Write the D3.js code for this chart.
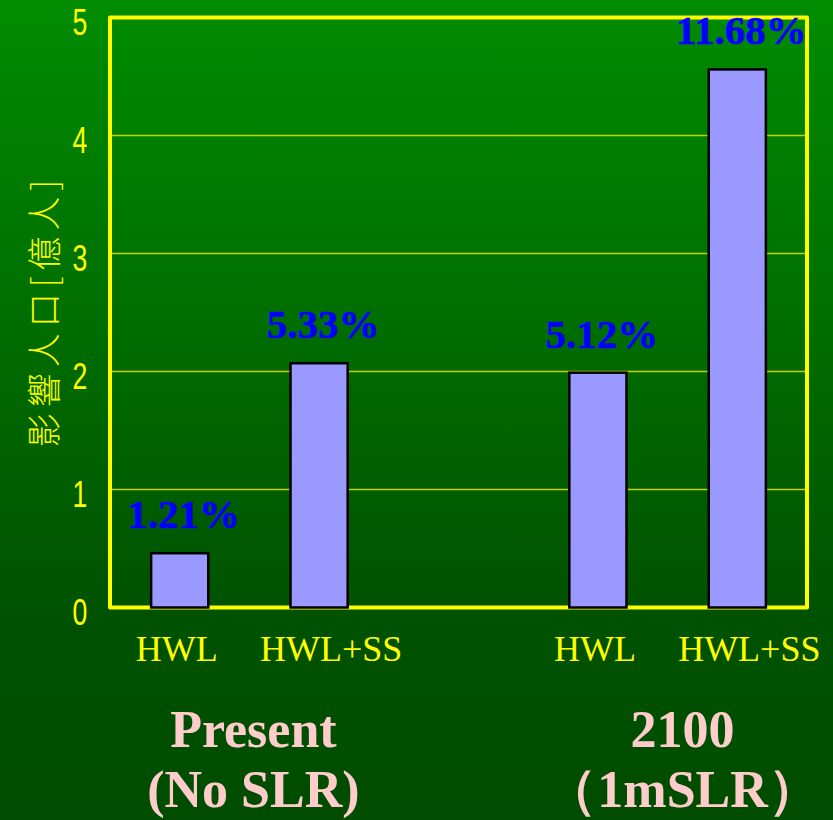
<!DOCTYPE html>
<html>
<head>
<meta charset="utf-8">
<script src="https://cdn.jsdelivr.net/npm/d3@7"></script>
<style>
  body { margin: 0; }
  svg { display: block; }
</style>
</head>
<body>
<svg id="chart"></svg>
<script>
// data
const groups = ["Present", "2100"];
const groupSubtitles = ["(No SLR)", "（1mSLR）"];
const barLabels = ["HWL", "HWL+SS", "HWL", "HWL+SS"];
const barGroup = [0, 0, 1, 1];
const population = [0.46, 2.07, 1.99, 4.56]; // 億人
const shares = ["1.21%", "5.33%", "5.12%", "11.68%"];
const yTicks = [0, 1, 2, 3, 4, 5];
const yTitle = "影響人口[億人]";

const width = 833, height = 820;
const margin = {top: 17.5, right: 26, bottom: 212.5, left: 110};

const svg = d3.select("#chart")
    .attr("width", width)
    .attr("height", height);

// background gradient
const defs = svg.append("defs");
const grad = defs.append("linearGradient")
    .attr("id", "bg")
    .attr("x1", 0).attr("y1", 0).attr("x2", 0).attr("y2", 1);
grad.append("stop").attr("offset", "0%").attr("stop-color", "#008c00");
grad.append("stop").attr("offset", "75%").attr("stop-color", "#005200");
grad.append("stop").attr("offset", "100%").attr("stop-color", "#004c00");

svg.append("rect")
    .attr("width", width)
    .attr("height", height)
    .attr("fill", "url(#bg)");

// one band per bar plus a spacer between the two groups
const keys = [];
barLabels.forEach((l, i) => {
    if (i > 0 && barGroup[i] !== barGroup[i - 1]) keys.push("gap");
    keys.push(i);
});

const x = d3.scaleBand()
    .domain(keys)
    .range([margin.left, width - margin.right])
    .paddingInner(0.59)
    .paddingOuter(0.295);

const y = d3.scaleLinear()
    .domain([0, 5])
    .range([height - margin.bottom, margin.top]);

const yellow = "#ffff00";

// gridlines
svg.append("g")
    .selectAll("line")
    .data(yTicks.filter(d => d > 0 && d < 5))
    .join("line")
    .attr("x1", margin.left)
    .attr("x2", width - margin.right)
    .attr("y1", d => y(d))
    .attr("y2", d => y(d))
    .attr("stroke", "#c8d000")
    .attr("stroke-width", 1.3);

// frame
svg.append("rect")
    .attr("x", margin.left)
    .attr("y", y(5))
    .attr("width", width - margin.right - margin.left)
    .attr("height", y(0) - y(5))
    .attr("fill", "none")
    .attr("stroke", yellow)
    .attr("stroke-width", 4)
    .attr("stroke-linejoin", "round");

// y tick labels (narrow face squeezed from Liberation Sans)
svg.append("g")
    .selectAll("text")
    .data(yTicks)
    .join("text")
    .attr("transform", d => `translate(80,${y(d) + 5}) scale(0.72,1)`)
    .attr("dy", "0.35em")
    .attr("text-anchor", "middle")
    .attr("fill", yellow)
    .style("font", "37px 'Liberation Sans', sans-serif")
    .text(d => d);

// y title
svg.append("text")
    .attr("transform", `translate(57,${(y(0) + y(5)) / 2 - 2}) rotate(-90)`)
    .attr("text-anchor", "middle")
    .attr("fill", yellow)
    .style("font", "300 34px 'Noto Sans CJK TC', sans-serif")
    .style("letter-spacing", "6px")
    .text(yTitle);

// bars
svg.append("g")
    .selectAll("rect")
    .data(population)
    .join("rect")
    .attr("x", (d, i) => x(i))
    .attr("y", d => y(d))
    .attr("width", x.bandwidth())
    .attr("height", d => y(0) - y(d))
    .attr("fill", "#9999ff")
    .attr("stroke", "#000")
    .attr("stroke-width", 2.5);

// percentage labels
svg.append("g")
    .selectAll("text")
    .data(shares)
    .join("text")
    .attr("x", (d, i) => x(i) + x.bandwidth() / 2 + 4)
    .attr("y", (d, i) => y(population[i]) - 25)
    .attr("text-anchor", "middle")
    .attr("fill", "#0000ff")
    .attr("stroke", "#0000ff")
    .attr("stroke-width", 0.6)
    .style("font", "bold 41px 'Liberation Serif', 'Times New Roman', serif")
    .text(d => d);

// bar category labels
svg.append("g")
    .selectAll("text")
    .data(barLabels)
    .join("text")
    .attr("x", (d, i) => x(i) + x.bandwidth() / 2 + (d.length > 3 ? 12 : -3))
    .attr("y", 661)
    .attr("text-anchor", "middle")
    .attr("fill", yellow)
    .style("font", "36px 'Liberation Serif', 'Times New Roman', serif")
    .text(d => d);

// group labels
const groupCenter = g => d3.mean(barLabels.map((l, i) => i).filter(i => barGroup[i] === g),
    i => x(i) + x.bandwidth() / 2);

const gl = svg.append("g")
    .attr("text-anchor", "middle")
    .attr("fill", "#ffcccc")
    .style("font", "bold 52px 'Liberation Serif', 'Times New Roman', serif");

gl.selectAll("text.title")
    .data(groups)
    .join("text")
    .attr("class", "title")
    .attr("x", (d, i) => groupCenter(i) + (i ? 15 : 4))
    .attr("y", 747)
    .text(d => d);

gl.selectAll("text.sub")
    .data(groupSubtitles)
    .join("text")
    .attr("class", "sub")
    .attr("x", (d, i) => groupCenter(i) + (i ? 15 : 4))
    .attr("y", 807)
    .text(d => d);
</script>
</body>
</html>
